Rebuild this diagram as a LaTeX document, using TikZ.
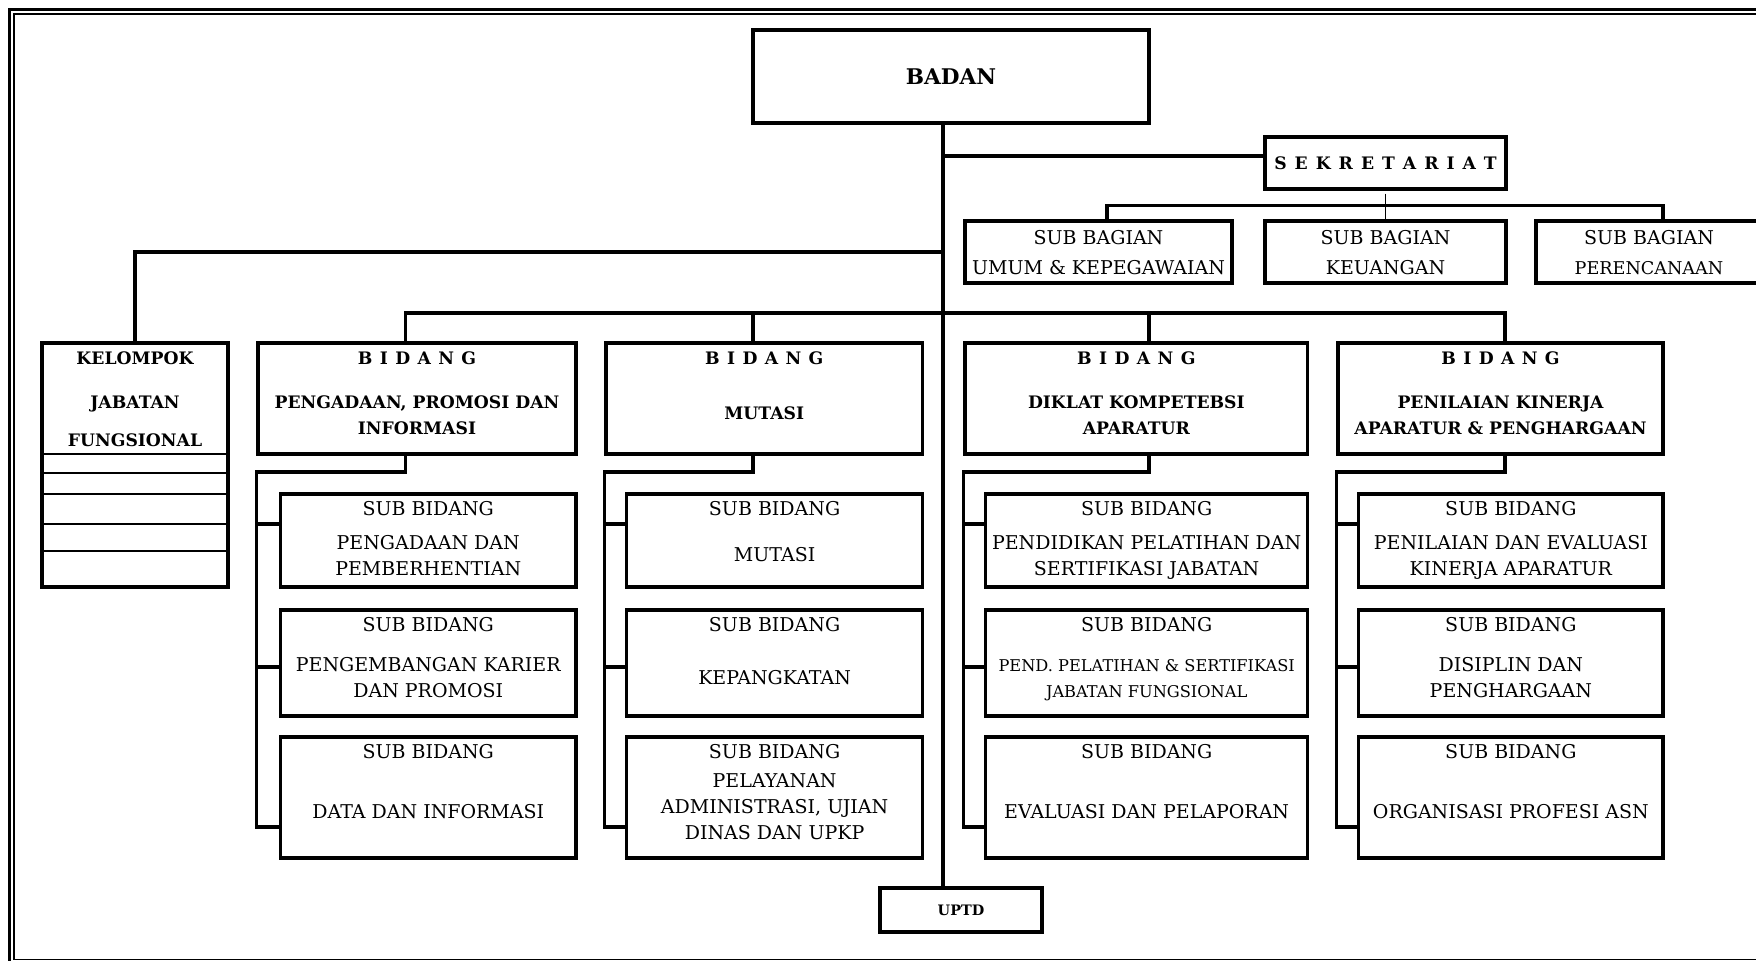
\documentclass[tikz,border=0pt]{standalone}
\usepackage{fontspec}
\setmainfont{DejaVu Serif}
\newcommand{\boxlines}[1]{\begin{tabular}[t]{@{}c@{}}#1\end{tabular}}
\newcommand{\bidang}{{\spaceskip=3.7pt B I D A N G}}

\begin{document}
\begin{tikzpicture}[x=0.5pt,y=-0.5pt,
  box/.style={draw,line width=1.55pt,inner sep=0pt},
  head/.style={box,font=\bfseries\fontsize{8.6}{13}\selectfont,minimum height=55.5pt,text height=10.6pt,text depth=44.9pt},
  bagian/.style={box,font=\fontsize{9.5}{13}\selectfont,minimum height=31pt,text height=12pt,text depth=19pt},
  sub/.style={box,font=\fontsize{9.5}{13}\selectfont,text height=10.9pt},
  row1/.style={minimum height=46.5pt,text depth=35.6pt},
  row2/.style={minimum height=53pt,text depth=42.1pt},
  row3/.style={minimum height=60.5pt,text depth=49.6pt},
  link/.style={line width=1.55pt}
]
  \useasboundingbox (0,0) rectangle (1756,961);
  \draw[line width=1.5pt] (9.7,975) -- (9.7,9.7) -- (1775,9.7);
  \draw[line width=1pt] (13.7,959.5) -- (13.7,13.7) -- (1775,13.7);
  \draw[line width=0.6pt] (13.7,959.5) -- (1775,959.5);

  \node[box,font=\bfseries\fontsize{10.8}{13}\selectfont,minimum width=198pt,minimum height=46.5pt] (badan) at (951,76.5) {BADAN};
  \node[box,font=\bfseries\fontsize{8.6}{13}\selectfont,minimum width=120.5pt,minimum height=26pt] (sekre) at (1385.5,163) {\spaceskip=4pt S E K R E T A R I A T};
  \node[bagian,minimum width=133.5pt] (sbumum) at (1098.5,252) {\boxlines{SUB BAGIAN\\[2pt]UMUM \& KEPEGAWAIAN}};
  \node[bagian,minimum width=120.5pt] (sbkeu) at (1385.5,252) {\boxlines{SUB BAGIAN\\[2pt]KEUANGAN}};
  \node[bagian,minimum width=113pt] (sbren) at (1649,252) {\boxlines{SUB BAGIAN\\[2pt]\fontsize{8.8}{13}\selectfont PERENCANAAN}};

  \node[head,minimum width=93pt,minimum height=122pt,text depth=111.4pt] (kel) at (135,465) {\boxlines{KELOMPOK\\[9pt]JABATAN\\[6pt]FUNGSIONAL}};
  \node[head,minimum width=159pt] (bid1) at (417,398.5) {\boxlines{\bidang\\[9pt]PENGADAAN, PROMOSI DAN\\INFORMASI}};
  \node[head,minimum width=158.25pt] (bid2) at (764.25,398.5) {\boxlines{\bidang\\[14.5pt]MUTASI}};
  \node[head,minimum width=171.35pt] (bid3) at (1136.35,398.5) {\boxlines{\bidang\\[9pt]DIKLAT KOMPETEBSI\\APARATUR}};
  \node[head,minimum width=162.5pt] (bid4) at (1500.5,398.5) {\boxlines{\bidang\\[9pt]PENILAIAN KINERJA\\APARATUR \& PENGHARGAAN}};

  \node[sub,row1,minimum width=147.75pt] (s11) at (428.25,540.5) {\boxlines{SUB BIDANG\\[4pt]PENGADAAN DAN\\PEMBERHENTIAN}};
  \node[sub,row2,minimum width=147.75pt] (s12) at (428.25,663) {\boxlines{SUB BIDANG\\[7pt]PENGEMBANGAN KARIER\\DAN PROMOSI}};
  \node[sub,row3,minimum width=147.75pt] (s13) at (428.25,797.5) {\boxlines{SUB BIDANG\\[17pt]DATA DAN INFORMASI}};
  \node[sub,row1,minimum width=147.9pt] (s21) at (774.6,540.5) {\boxlines{SUB BIDANG\\[10pt]MUTASI}};
  \node[sub,row2,minimum width=147.9pt] (s22) at (774.6,663) {\boxlines{SUB BIDANG\\[13.5pt]KEPANGKATAN}};
  \node[sub,row3,minimum width=147.9pt] (s23) at (774.6,797.5) {\boxlines{SUB BIDANG\\[1.5pt]PELAYANAN\\ADMINISTRASI, UJIAN\\DINAS DAN UPKP}};
  \node[sub,row1,minimum width=161pt] (s31) at (1146.65,540.5) {\boxlines{SUB BIDANG\\[4pt]PENDIDIKAN PELATIHAN DAN\\SERTIFIKASI JABATAN}};
  \node[sub,row2,minimum width=161pt] (s32) at (1146.65,663) {\boxlines{SUB BIDANG\\[7pt]\fontsize{8.1}{13}\selectfont PEND. PELATIHAN \& SERTIFIKASI\\\fontsize{8.1}{13}\selectfont JABATAN FUNGSIONAL}};
  \node[sub,row3,minimum width=161pt] (s33) at (1146.65,797.5) {\boxlines{SUB BIDANG\\[17pt]EVALUASI DAN PELAPORAN}};
  \node[sub,row1,minimum width=152.15pt] (s41) at (1510.85,540.5) {\boxlines{SUB BIDANG\\[4pt]PENILAIAN DAN EVALUASI\\KINERJA APARATUR}};
  \node[sub,row2,minimum width=152.15pt] (s42) at (1510.85,663) {\boxlines{SUB BIDANG\\[7pt]DISIPLIN DAN\\PENGHARGAAN}};
  \node[sub,row3,minimum width=152.15pt] (s43) at (1510.85,797.5) {\boxlines{SUB BIDANG\\[17pt]ORGANISASI PROFESI ASN}};

  \node[box,font=\bfseries\fontsize{7.2}{13}\selectfont,minimum width=81pt,minimum height=22pt] (uptd) at (961,910) {UPTD};

  \coordinate (trunk) at (943,313);
  \coordinate (d1) at (405.6,313);
  \coordinate (d2) at (753,313);
  \coordinate (d3) at (1149,313);
  \coordinate (d4) at (1505,313);

  \draw[link] (badan.south -| trunk) -- (uptd.north -| trunk);
  \draw[link] ([yshift=3.5pt]sekre.west) -- ([yshift=3.5pt]sekre.west -| trunk);
  \draw[link] (kel.north) |- (trunk |- 0,252);
  \draw[link] ([xshift=4.25pt]sbumum.north) -- ++(0,-14) -| ([xshift=7pt]sbren.north);
  \draw[line width=0.6pt] ([yshift=-1.5pt]sekre.south) -- ([yshift=-1pt]sbkeu.north);
  \draw[link] (d1 |- bid1.north) -- (d1) -- (d4) -- (d4 |- bid4.north);
  \draw[link] (d2) -- (d2 |- bid2.north);
  \draw[link] (d3) -- (d3 |- bid3.north);
  \foreach \i in {1,...,4} {
    \draw[link] (d\i |- bid\i.south) |- (bid\i.west |- 0,472) -- (bid\i.west |- 0,827) -- (s\i3.west |- 0,827);
    \foreach \y [count=\r] in {524,667}
      \draw[link] (bid\i.west |- 0,\y) -- (s\i\r.west |- 0,\y);
  }
  \foreach \y in {454,473,494,524,551}
    \draw[line width=1.4pt] (kel.west |- 0,\y) -- (kel.east |- 0,\y);
\end{tikzpicture}
\end{document}
